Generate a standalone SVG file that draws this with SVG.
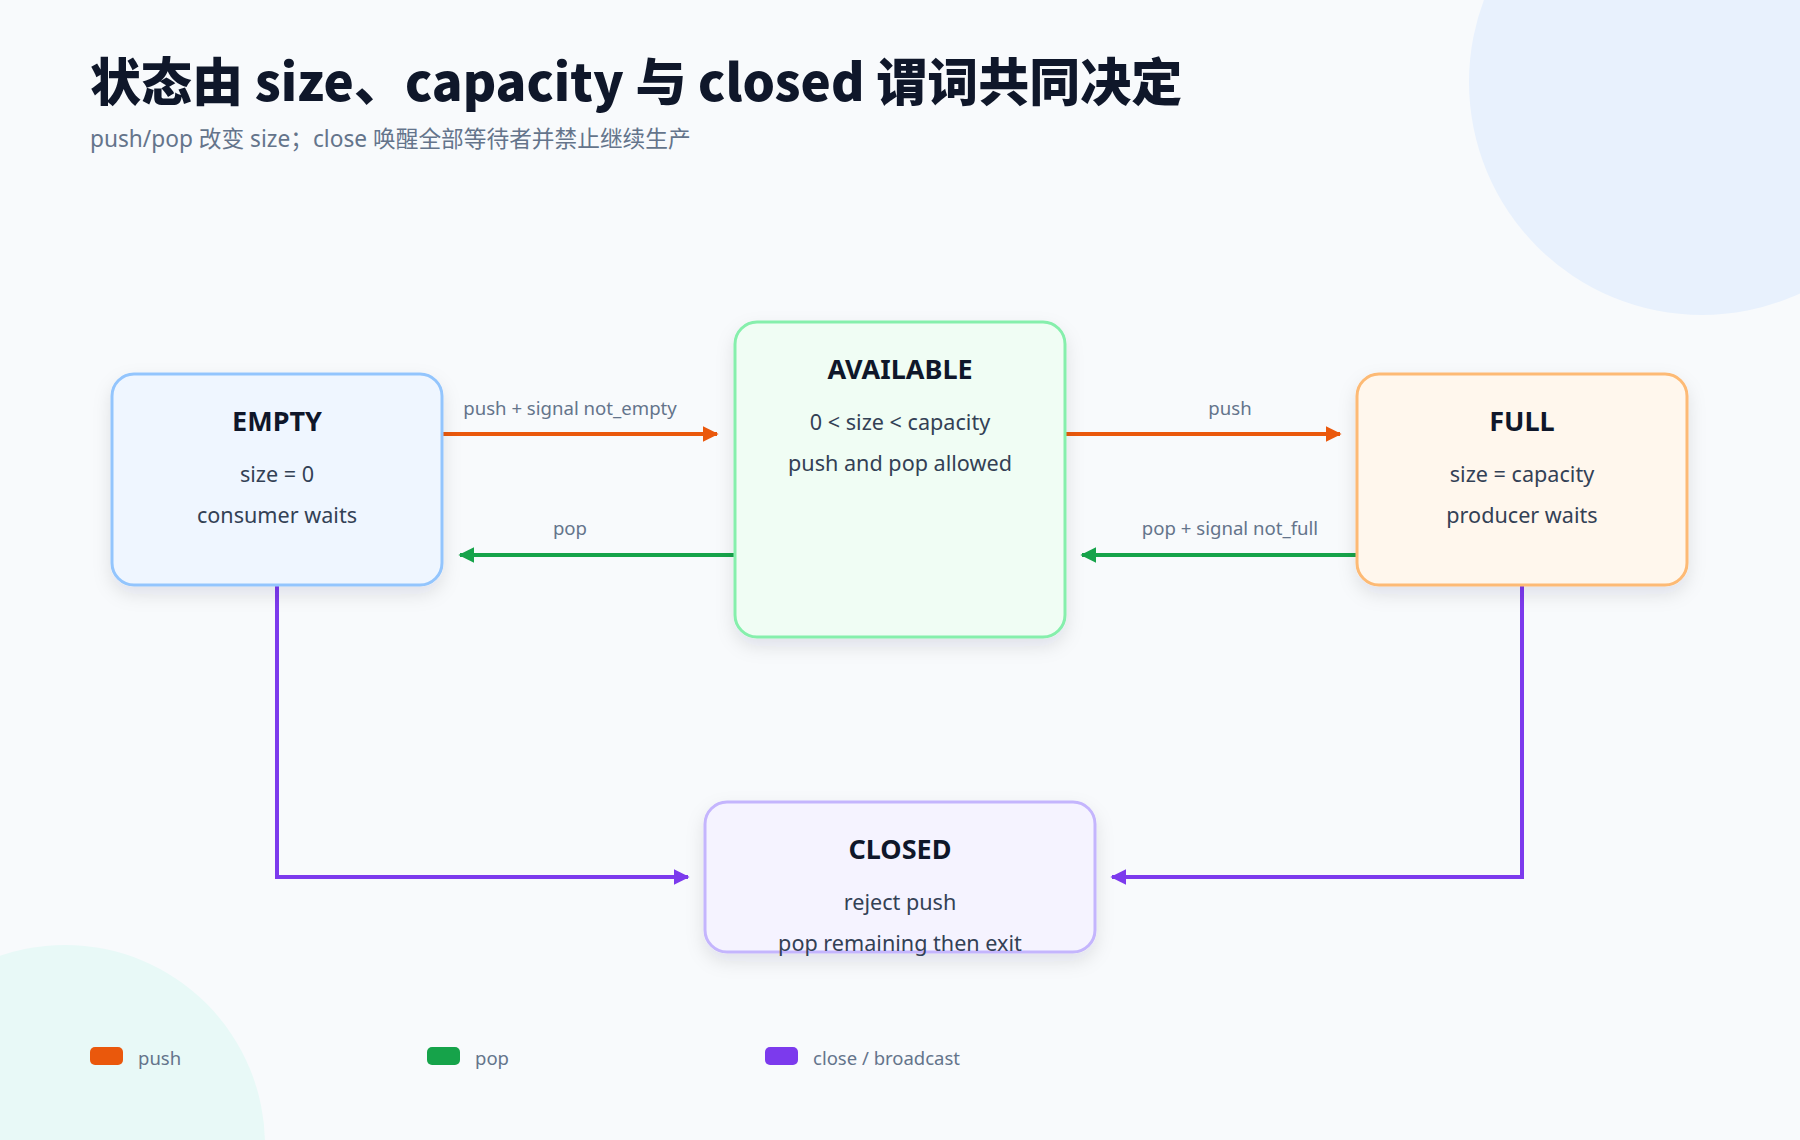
<svg xmlns="http://www.w3.org/2000/svg" width="1800" height="1140" viewBox="0 0 1800 1140">
  <defs>
    <style>
      .title { font-family: "Noto Sans CJK SC", "Noto Sans", sans-serif; font-weight: 800; font-size: 51px; fill: #0f172a; }
      .subtitle { font-family: "Noto Sans", "Noto Sans CJK SC", sans-serif; font-size: 22.7px; fill: #64748b; }
      .ntitle { font-family: "Noto Sans", "Noto Sans CJK SC", sans-serif; font-weight: 700; font-size: 27px; fill: #0f172a; text-anchor: middle; }
      .nbody { font-family: "Noto Sans", "Noto Sans CJK SC", sans-serif; font-size: 21.6px; fill: #334155; text-anchor: middle; }
      .elabel { font-family: "Noto Sans", "Noto Sans CJK SC", sans-serif; font-size: 18.6px; fill: #64748b; text-anchor: middle; }
      .legend { font-family: "Noto Sans", "Noto Sans CJK SC", sans-serif; font-size: 18.5px; fill: #64748b; }
      .node rect { stroke-width: 3; filter: url(#shadow); }
      .edge { fill: none; stroke-width: 4; }
      .push { stroke: #ea580c; }
      .pop { stroke: #16a34a; }
      .close { stroke: #7c3aed; }
    </style>
    <filter id="shadow" x="-20%" y="-20%" width="140%" height="150%">
      <feDropShadow dx="0" dy="8" stdDeviation="9" flood-color="#0f172a" flood-opacity="0.10"/>
    </filter>
    <marker id="arrPush" viewBox="0 0 10 10" refX="9" refY="5" markerWidth="4" markerHeight="4" orient="auto" markerUnits="strokeWidth">
      <path d="M0,0 L10,5 L0,10 z" fill="#ea580c"/>
    </marker>
    <marker id="arrPop" viewBox="0 0 10 10" refX="9" refY="5" markerWidth="4" markerHeight="4" orient="auto" markerUnits="strokeWidth">
      <path d="M0,0 L10,5 L0,10 z" fill="#16a34a"/>
    </marker>
    <marker id="arrClose" viewBox="0 0 10 10" refX="9" refY="5" markerWidth="4" markerHeight="4" orient="auto" markerUnits="strokeWidth">
      <path d="M0,0 L10,5 L0,10 z" fill="#7c3aed"/>
    </marker>
  </defs>

  <rect x="0" y="0" width="1800" height="1140" fill="#f8fafc"/>
  <circle cx="1702" cy="82" r="233" fill="#e8f1fd"/>
  <circle cx="65" cy="1145" r="200" fill="#e8f9f7"/>

  <text class="title" x="90" y="101">状态由 size、capacity 与 closed 谓词共同决定</text>
  <text class="subtitle" x="90" y="147">push/pop 改变 size；close 唤醒全部等待者并禁止继续生产</text>

  <g id="connectors">
    <path class="edge push" d="M443,434 L717,434" marker-end="url(#arrPush)"/>
    <text class="elabel" x="570" y="415">push + signal not_empty</text>
    <path class="edge pop" d="M735,555 L460,555" marker-end="url(#arrPop)"/>
    <text class="elabel" x="570" y="535">pop</text>
    <path class="edge push" d="M1065,434 L1340,434" marker-end="url(#arrPush)"/>
    <text class="elabel" x="1230" y="415">push</text>
    <path class="edge pop" d="M1357,555 L1082,555" marker-end="url(#arrPop)"/>
    <text class="elabel" x="1230" y="535">pop + signal not_full</text>
    <path class="edge close" d="M277,585 L277,877 L688,877" marker-end="url(#arrClose)"/>
    <path class="edge close" d="M1522,585 L1522,877 L1112,877" marker-end="url(#arrClose)"/>
  </g>

  <g id="node-empty" class="node">
    <rect x="112" y="374" width="330" height="211" rx="22" fill="#eff6ff" stroke="#93c5fd"/>
    <text class="ntitle" x="277" y="431">EMPTY</text>
    <text class="nbody" x="277" y="482">size = 0</text>
    <text class="nbody" x="277" y="523">consumer waits</text>
  </g>

  <g id="node-available" class="node">
    <rect x="735" y="322" width="330" height="315" rx="22" fill="#f0fdf4" stroke="#86efac"/>
    <text class="ntitle" x="900" y="379">AVAILABLE</text>
    <text class="nbody" x="900" y="430">0 &lt; size &lt; capacity</text>
    <text class="nbody" x="900" y="471">push and pop allowed</text>
  </g>

  <g id="node-full" class="node">
    <rect x="1357" y="374" width="330" height="211" rx="22" fill="#fff7ed" stroke="#fdba74"/>
    <text class="ntitle" x="1522" y="431">FULL</text>
    <text class="nbody" x="1522" y="482">size = capacity</text>
    <text class="nbody" x="1522" y="523">producer waits</text>
  </g>

  <g id="node-closed" class="node">
    <rect x="705" y="802" width="390" height="150" rx="22" fill="#f5f3ff" stroke="#c4b5fd"/>
    <text class="ntitle" x="900" y="859">CLOSED</text>
    <text class="nbody" x="900" y="910">reject push</text>
    <text class="nbody" x="900" y="951">pop remaining then exit</text>
  </g>

  <g id="legend">
    <rect x="90" y="1047" width="33" height="18" rx="5" fill="#ea580c"/>
    <text class="legend" x="138" y="1065">push</text>
    <rect x="427" y="1047" width="33" height="18" rx="5" fill="#16a34a"/>
    <text class="legend" x="475" y="1065">pop</text>
    <rect x="765" y="1047" width="33" height="18" rx="5" fill="#7c3aed"/>
    <text class="legend" x="813" y="1065">close / broadcast</text>
  </g>
</svg>
